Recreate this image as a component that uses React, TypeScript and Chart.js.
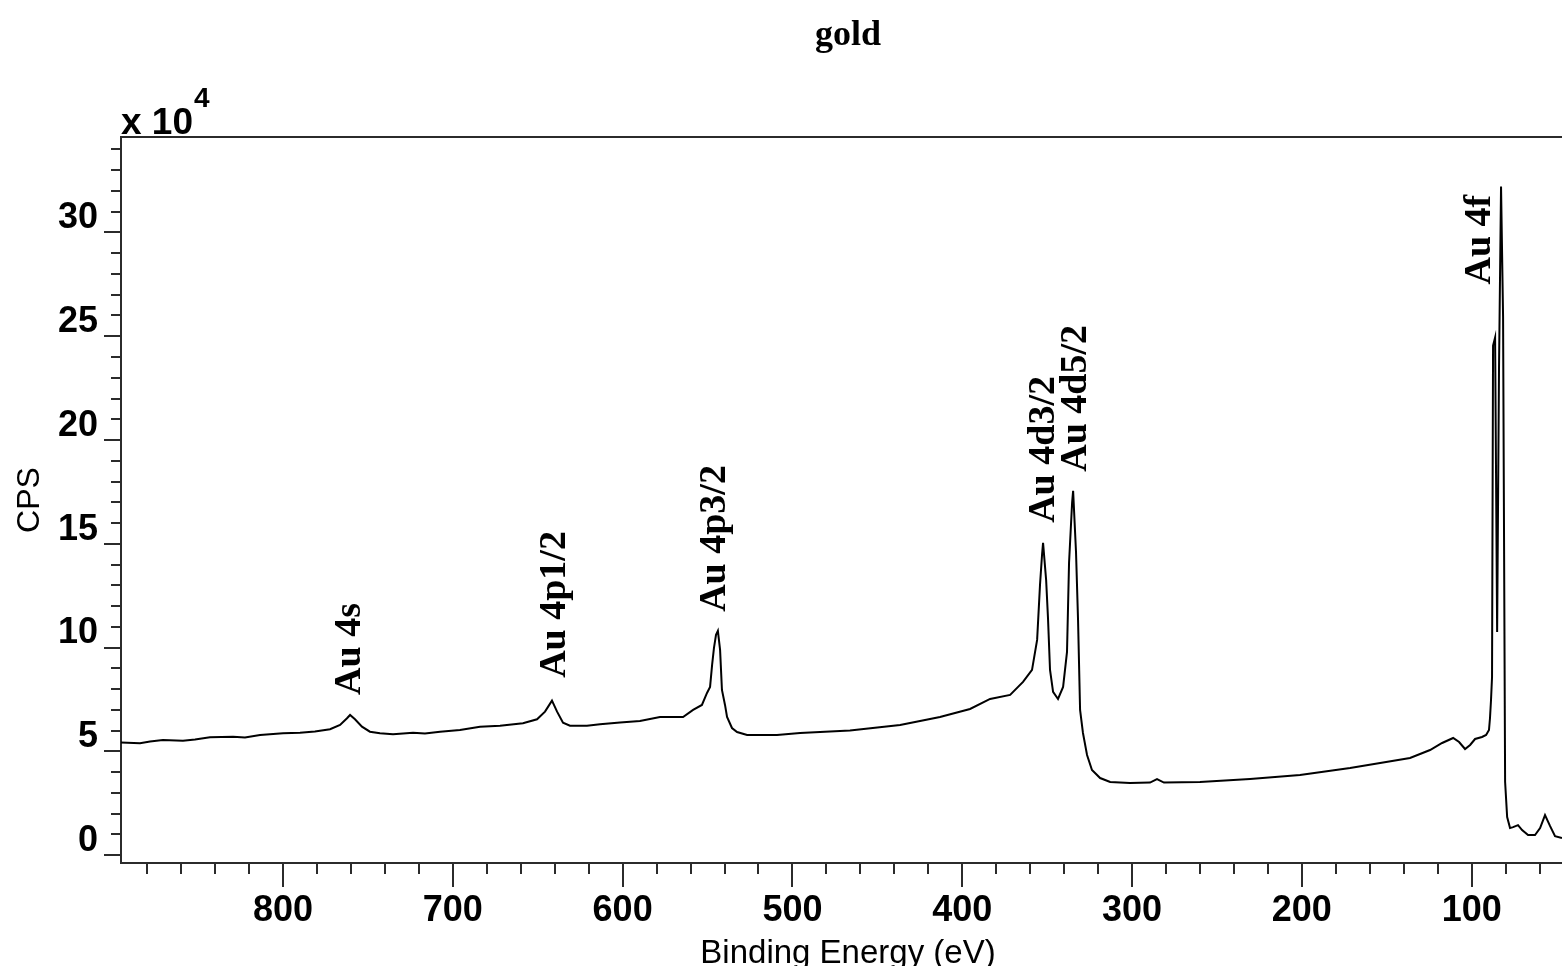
import React, { useEffect, useRef } from 'react';
import { Chart, registerables } from 'chart.js';

Chart.register(...registerables);

// Binding energy (eV) and intensity (counts per second)
const energy = [
  895.4, 884.2, 878.3, 870.7, 858.9, 851.8, 843.0, 829.4, 822.4, 813.5,
  800.0, 790.0, 781.2, 772.3, 766.4, 762.3, 760.5, 757.6, 753.5, 748.8,
  742.9, 735.2, 723.4, 716.4, 707.5, 695.8, 684.0, 672.2, 658.7, 650.4,
  645.7, 641.6, 638.6, 635.1, 631.0, 621.0, 613.3, 601.5, 589.8, 578.0,
  564.4, 558.5, 553.3, 550.3, 548.5, 547.3, 546.2, 545.0, 543.9, 542.6,
  541.5, 539.7, 538.5, 535.6, 532.6, 526.7, 509.1, 495.5, 466.1, 436.6,
  413.1, 395.4, 383.6, 371.8, 364.2, 358.9, 355.9, 354.2, 353.0, 352.4,
  350.6, 349.5, 348.3, 346.5, 343.6, 340.6, 338.3, 337.1, 335.3, 334.7,
  333.0, 331.8, 330.6, 328.9, 326.5, 323.6, 318.8, 312.9, 301.2, 289.4,
  285.3, 281.2, 260.0, 230.5, 201.1, 171.6, 153.9, 136.3, 124.5, 117.4,
  110.9, 107.4, 103.9, 100.9, 98.0, 93.9, 91.5, 89.8, 89.2, 88.6,
  88.0, 87.4, 86.2, 85.0, 83.9, 82.7, 81.5, 80.3, 79.1, 77.4,
  75.6, 72.7, 70.3, 66.8, 62.7, 59.7, 56.8, 53.8, 50.9, 46.8,
];

const cps = [
  54260, 53880, 54740, 55470, 55130, 55710, 56770, 57060, 56670, 57880,
  58700, 58990, 59570, 60630, 62700, 65930, 67520, 65450, 61880, 59470,
  58700, 58220, 58990, 58600, 59470, 60290, 61880, 62360, 63520, 65450,
  69120, 74420, 69120, 63810, 62360, 62360, 63040, 63910, 64630, 66560,
  66560, 69940, 72350, 78140, 81030, 91640, 99840, 106110, 108040, 98880,
  79580, 72350, 66560, 61250, 59330, 57880, 57880, 58840, 60050, 62700,
  66560, 70420, 75240, 77170, 83440, 89230, 103700, 130230, 144700, 150480,
  132640, 114310, 89230, 78620, 75240, 81030, 97910, 140840, 169780, 175570,
  146140, 113350, 69940, 58840, 48230, 41000, 37140, 35210, 34730, 34970,
  36660, 34970, 35210, 36660, 38590, 41960, 44370, 46780, 50640, 54020,
  56430, 54500, 51130, 53060, 55950, 56910, 57880, 60290, 66080, 74760,
  85850, 245500, 249360, 107560, 233930, 322190, 259490, 35210, 18330, 13020,
  13500, 14470, 12060, 9650, 9650, 13020, 19290, 13990, 9160, 8200,
];

const xTicks = [800, 700, 600, 500, 400, 300, 200, 100];
const yTicks = [0, 50000, 100000, 150000, 200000, 250000, 300000];
const yTickDivisor = 10000;

const peakNames = ['Au 4s', 'Au 4p1/2', 'Au 4p3/2', 'Au 4d3/2', 'Au 4d5/2', 'Au 4f'];
const peakLabelEnergy = [754.7, 633.9, 539.7, 345.9, 327.1, 89.2];
const peakLabelCps = [77200, 85400, 117200, 160100, 184700, 274900];

const titleText = 'gold';
const xTitle = 'Binding Energy (eV)';
const yTitle = 'CPS';

const X_MIN = 46.8;
const X_MAX = 895.4;
const Y_MIN = -3800;
const Y_MAX = 346000;
const X_MINOR_STEP = 20;
const Y_MINOR_STEP = 10000;

const AXIS_COLOR = '#2b2b2b';
const SANS = '"Liberation Sans", Arial, sans-serif';
const SERIF = '"Liberation Serif", "Times New Roman", serif';

const decorPlugin = {
  id: 'decor',
  afterDraw(chart: any) {
    const ctx = chart.ctx as CanvasRenderingContext2D;
    const { left, top, right, bottom } = chart.chartArea;
    const xs = chart.scales.x;
    const ys = chart.scales.y;
    ctx.save();
    ctx.strokeStyle = AXIS_COLOR;
    ctx.lineWidth = 2;
    ctx.beginPath();
    ctx.moveTo(left - 1, top);
    ctx.lineTo(right, top);
    // minor x ticks
    for (let v = Math.ceil(X_MIN / X_MINOR_STEP) * X_MINOR_STEP; v <= X_MAX; v += X_MINOR_STEP) {
      const px = Math.round(xs.getPixelForValue(v));
      ctx.moveTo(px, bottom);
      ctx.lineTo(px, bottom + 11);
    }
    // minor y ticks
    for (let v = Math.ceil(Y_MIN / Y_MINOR_STEP) * Y_MINOR_STEP; v <= Y_MAX; v += Y_MINOR_STEP) {
      const py = Math.round(ys.getPixelForValue(v));
      ctx.moveTo(left, py);
      ctx.lineTo(left - 10, py);
    }
    ctx.stroke();

    ctx.fillStyle = '#000';
    // title
    ctx.font = `bold 36px ${SERIF}`;
    ctx.textAlign = 'center';
    ctx.textBaseline = 'alphabetic';
    ctx.fillText(titleText, 848, 45);

    // x 10^4
    ctx.font = `bold 37px ${SANS}`;
    ctx.textAlign = 'left';
    ctx.fillText('x 10', 121, 134);
    const w = ctx.measureText('x 10').width;
    ctx.font = `bold 28px ${SANS}`;
    ctx.fillText('4', 121 + w + 1, 107);

    // x axis title
    ctx.font = `33px ${SANS}`;
    ctx.textAlign = 'center';
    ctx.fillText(xTitle, 848, 963);

    // y axis title
    ctx.save();
    ctx.translate(30, (top + bottom) / 2);
    ctx.rotate(-Math.PI / 2);
    ctx.font = `32px ${SANS}`;
    ctx.textAlign = 'center';
    ctx.textBaseline = 'middle';
    ctx.fillText(yTitle, 0, 0);
    ctx.restore();

    // peak labels
    ctx.font = `bold 38px ${SERIF}`;
    peakNames.forEach((name, i) => {
      const px = xs.getPixelForValue(peakLabelEnergy[i]);
      const py = ys.getPixelForValue(peakLabelCps[i]);
      ctx.save();
      ctx.translate(px, py);
      ctx.rotate(-Math.PI / 2);
      ctx.textAlign = 'left';
      ctx.textBaseline = 'alphabetic';
      ctx.fillText(name, 0, 0);
      ctx.restore();
    });
    ctx.restore();
  },
};

export default function App() {
  const ref = useRef<HTMLCanvasElement | null>(null);

  useEffect(() => {
    if (!ref.current) return;
    const chart = new Chart(ref.current, {
      type: 'line',
      data: {
        datasets: [
          {
            data: energy.map((e, i) => ({ x: e, y: cps[i] })),
            borderColor: '#000',
            borderWidth: 2,
            pointRadius: 0,
            tension: 0,
            fill: false,
          },
        ],
      },
      options: {
        animation: false,
        responsive: false,
        layout: { padding: { top: 137, left: 0, right: 0, bottom: 0 } },
        plugins: {
          legend: { display: false },
          title: { display: false },
          tooltip: { enabled: false },
        },
        scales: {
          x: {
            type: 'linear',
            reverse: true,
            min: X_MIN,
            max: X_MAX,
            afterFit: (s: any) => {
              s.height = 103;
            },
            afterBuildTicks: (s: any) => {
              s.ticks = xTicks.map((v) => ({ value: v }));
            },
            grid: {
              drawOnChartArea: false,
              drawTicks: true,
              tickLength: 24,
              lineWidth: 2,
              color: AXIS_COLOR,
            },
            border: { display: true, color: AXIS_COLOR, width: 2 },
            ticks: {
              color: '#000',
              font: { family: SANS, size: 36, weight: 'bold' },
              padding: 2,
              maxRotation: 0,
              autoSkip: false,
              callback: (v: any) => String(v),
            },
          },
          y: {
            type: 'linear',
            min: Y_MIN,
            max: Y_MAX,
            afterFit: (s: any) => {
              s.width = 121;
            },
            afterBuildTicks: (s: any) => {
              s.ticks = yTicks.map((v) => ({ value: v }));
            },
            grid: {
              drawOnChartArea: false,
              drawTicks: true,
              tickLength: 17,
              lineWidth: 2,
              color: AXIS_COLOR,
            },
            border: { display: true, color: AXIS_COLOR, width: 2 },
            ticks: {
              color: '#000',
              font: { family: SANS, size: 36, weight: 'bold' },
              padding: 6,
              labelOffset: -14,
              autoSkip: false,
              callback: (v: any) => String(Number(v) / yTickDivisor),
            },
          },
        },
      },
      plugins: [decorPlugin],
    });
    return () => chart.destroy();
  }, []);

  return (
    <div style={{ position: 'absolute', left: 0, top: 0, width: 1562, height: 966, background: '#fff' }}>
      <canvas ref={ref} width={1562} height={966} style={{ display: 'block' }} />
    </div>
  );
}
